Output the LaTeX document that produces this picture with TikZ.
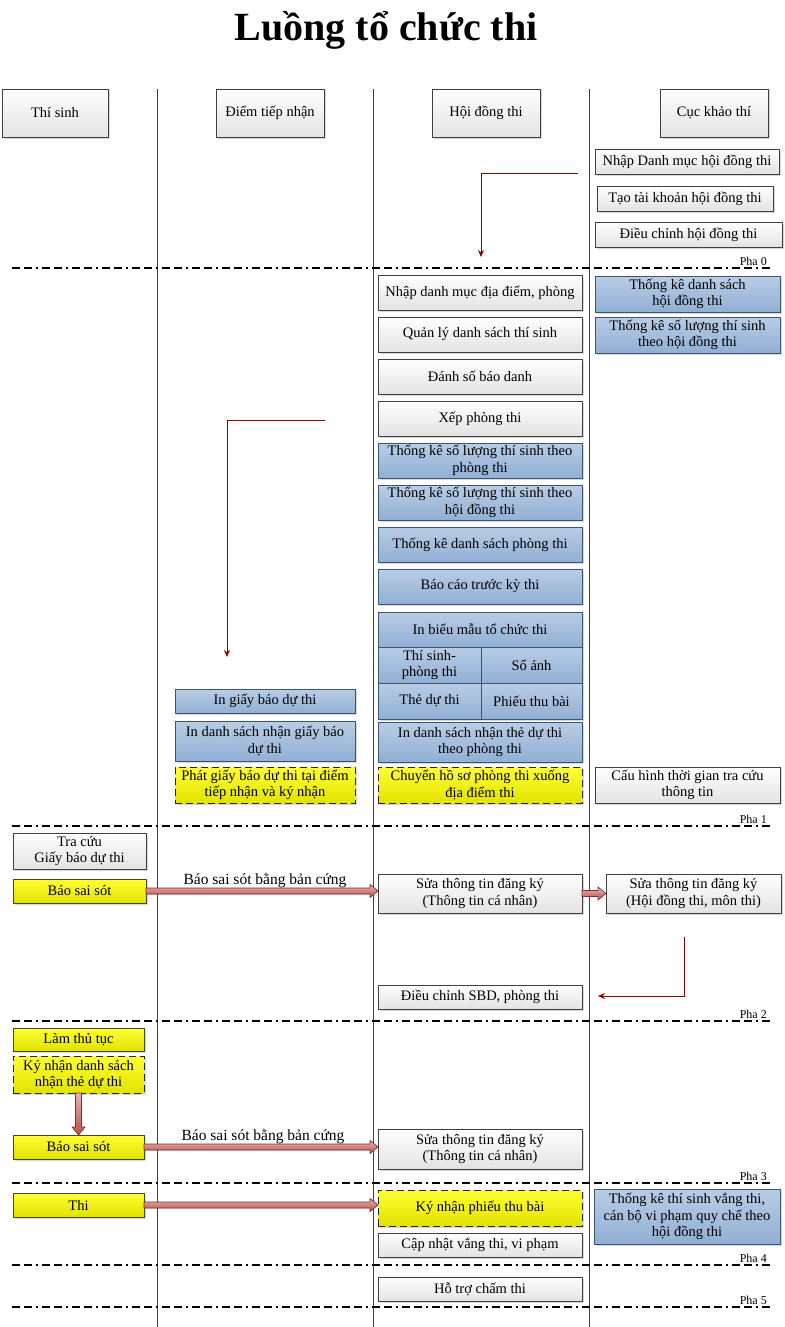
\documentclass[tikz,border=0pt]{standalone}
\usepackage{fontspec}
\setmainfont{Liberation Serif}
\usetikzlibrary{arrows.meta,shadows,calc}
\definecolor{boxline}{HTML}{404040}
\definecolor{blueA}{HTML}{B9CDE5}
\definecolor{blueB}{HTML}{91AFD4}
\definecolor{blueline}{HTML}{3A5674}
\definecolor{yelA}{HTML}{FFFF33}
\definecolor{yelB}{HTML}{E2E200}
\definecolor{yelline}{HTML}{4A4A20}
\definecolor{redcon}{HTML}{8E0000}
\definecolor{fatA}{HTML}{E6B4B2}
\definecolor{fatB}{HTML}{B9504C}
\definecolor{fatline}{HTML}{7F2F2D}
\tikzset{
  txt/.style={font=\fontsize{14.5}{16.5}\selectfont, align=center, inner sep=1pt, outer sep=0pt},
  base/.style={txt, drop shadow={shadow xshift=1.5pt, shadow yshift=-1.5pt, opacity=0.3}},
  wbox/.style={base, draw=boxline, top color=white, bottom color=black!11, line width=0.8pt},
  bbox/.style={base, draw=blueline, top color=blueA, bottom color=blueB, line width=0.8pt},
  ybox/.style={base, draw=yelline, top color=yelA, bottom color=yelB, line width=0.8pt},
  ydbox/.style={ybox, draw=black!85, dash pattern=on 7pt off 4pt},
  lane/.style={draw=boxline, line width=0.8pt},
  phase/.style={draw=black, line width=1.6pt, dash pattern=on 8pt off 4pt on 8pt off 4pt on 2pt off 4pt},
  phlabel/.style={font=\fontsize{12}{13}\selectfont, anchor=south east, inner sep=1pt},
  redarrow/.style={draw=redcon, line width=1pt, -{Stealth[length=7pt,width=6pt]}},
  fat/.style={top color=fatA, bottom color=fatB, draw=fatline, line width=0.6pt},
  lbl/.style={font=\fontsize{15.5}{17}\selectfont, inner sep=0pt}
}
% \Bx{style}{name}{x1}{y1}{x2}{y2}{text}
\newcommand{\Bx}[7]{\node[#1, anchor=north west, minimum width={(#5-#3)*1pt}, minimum height={(#6-#4)*1pt}] (#2) at (#3,#4) {#7};}
% horizontal fat arrow from #1 to #2
\newcommand{\fatH}[2]{%
  \coordinate (#1-#2-tip) at (#2.west |- #1.east);
  \filldraw[fat] ($(#1.east)+(0,-3)$) -- ($(#1-#2-tip)+(-8,-3)$) -- ($(#1-#2-tip)+(-8,-6.5)$) -- (#1-#2-tip) -- ($(#1-#2-tip)+(-8,6.5)$) -- ($(#1-#2-tip)+(-8,3)$) -- ($(#1.east)+(0,3)$) -- cycle;}
\newcommand{\fatV}[2]{%
  \coordinate (#1-#2-tip) at (#1.south |- #2.north);
  \filldraw[fat] ($(#1.south)+(-3,0)$) -- ($(#1-#2-tip)+(-3,-8)$) -- ($(#1-#2-tip)+(-6.5,-8)$) -- (#1-#2-tip) -- ($(#1-#2-tip)+(6.5,-8)$) -- ($(#1-#2-tip)+(3,-8)$) -- ($(#1.south)+(3,0)$) -- cycle;}
\begin{document}
\begin{tikzpicture}[x=1pt,y=-1pt]
\useasboundingbox (0,0) rectangle (784,1327);
\fill[white] (0,0) rectangle (784,1327);
% title
\node[font=\fontsize{40}{44}\selectfont\bfseries, inner sep=0pt] (title) at (386,30) {Luồng tổ chức thi};
% lanes
\coordinate (l1t) at (157,89); \coordinate (l1b) at (157,1327);
\coordinate (l2t) at (373,89); \coordinate (l2b) at (373,1327);
\coordinate (l3t) at (589,89); \coordinate (l3b) at (589,1327);
\draw[lane] (l1t) -- (l1b);
\draw[lane] (l2t) -- (l2b);
\draw[lane] (l3t) -- (l3b);
% headers
\Bx{wbox}{hd1}{2}{89}{108}{137}{Thí sinh}
\Bx{wbox}{hd2}{216}{89}{324}{137}{Điểm tiếp nhận}
\Bx{wbox}{hd3}{432}{89}{540}{137}{Hội đồng thi}
\Bx{wbox}{hd4}{660}{89}{768}{137}{Cục khảo thí}
% phase lines
\foreach \yy/\nm in {268/0,826/1,1021/2,1183/3,1265/4,1307/5}{
  \coordinate (p\nm a) at (12,\yy); \coordinate (p\nm b) at (770,\yy);
  \draw[phase] (p\nm a) -- (p\nm b);
  \node[phlabel] (pl\nm) at (768,\yy-1) {Pha \nm};
}
% Cuc khao thi - phase 0
\Bx{wbox}{c1}{595}{149}{779}{174}{Nhập Danh mục hội đồng thi}
\Bx{wbox}{c2}{597}{186}{773}{211}{Tạo tài khoản hội đồng thi}
\Bx{wbox}{c3}{595}{222}{782}{247}{Điều chỉnh hội đồng thi}
\coordinate (r1s) at (578,173); \coordinate (r1e) at (481,257);
\draw[redarrow] (r1s) -| (r1e);
% Phase 1 - Hoi dong thi
\Bx{wbox}{h1}{378}{275}{582}{310}{Nhập danh mục địa điểm, phòng}
\Bx{wbox}{h2}{378}{317}{582}{352}{Quản lý danh sách thí sinh}
\Bx{wbox}{h3}{378}{359}{582}{394}{Đánh số báo danh}
\Bx{wbox}{h4}{378}{401}{582}{436}{Xếp phòng thi}
\Bx{bbox}{h5}{378}{443}{582}{478}{Thống kê số lượng thí sinh theo\\phòng thi}
\Bx{bbox}{h6}{378}{485}{582}{520}{Thống kê số lượng thí sinh theo\\hội đồng thi}
\Bx{bbox}{h7}{378}{527}{582}{562}{Thống kê danh sách phòng thi}
\Bx{bbox}{h8}{378}{569}{582}{604}{Báo cáo trước kỳ thi}
\Bx{bbox}{h9}{378}{612}{582}{647}{In biểu mẫu tổ chức thi}
\Bx{bbox}{h10a}{378}{647}{481}{683}{Thí sinh-\\phòng thi}
\Bx{bbox}{h10b}{481}{647}{582}{683}{Sổ ảnh}
\Bx{bbox}{h11a}{378}{683}{481}{719}{Thẻ dự thi}
\Bx{bbox}{h11b}{481}{683}{582}{719}{Phiếu thu bài}
\Bx{bbox}{h12}{378}{722}{582}{762}{In danh sách nhận thẻ dự thi\\theo phòng thi}
\Bx{ydbox}{h13}{378}{767}{582}{803}{Chuyển hồ sơ phòng thi xuống\\địa điểm thi}
% Cuc khao thi phase 1
\Bx{bbox}{c4}{595}{276}{780}{312}{Thống kê danh sách\\hội đồng thi}
\Bx{bbox}{c5}{595}{317}{780}{353}{Thống kê số lượng thí sinh\\theo hội đồng thi}
\Bx{wbox}{c6}{595}{767}{780}{803}{Cấu hình thời gian tra cứu\\thông tin}
% Diem tiep nhan
\coordinate (r2s) at (325,420); \coordinate (r2e) at (227,657);
\draw[redarrow] (r2s) -| (r2e);
\Bx{bbox}{d1}{175}{689}{355}{713}{In giấy báo dự thi}
\Bx{bbox}{d2}{175}{721}{355}{761}{In danh sách nhận giấy báo\\dự thi}
\Bx{ydbox}{d3}{175}{767}{355}{803}{Phát giấy báo dự thi tại điểm\\tiếp nhận và ký nhận}
% Phase 2 section
\Bx{wbox}{t1}{13}{833}{146}{869}{Tra cứu\\Giấy báo dự thi}
\Bx{ybox}{t2}{13}{879}{146}{903}{Báo sai sót}
\Bx{wbox}{h14}{378}{874}{582}{913}{Sửa thông tin đăng ký\\(Thông tin cá nhân)}
\Bx{wbox}{c7}{606}{874}{781}{913}{Sửa thông tin đăng ký\\(Hội đồng thi, môn thi)}
\Bx{wbox}{h15}{378}{985}{582}{1009}{Điều chỉnh SBD, phòng thi}
\fatH{t2}{h14}
\fatH{h14}{c7}
\node[lbl] (lb1) at (265,881) {Báo sai sót bằng bản cứng};
\coordinate (r3s) at (684,937); \coordinate (r3e) at (598,996);
\draw[redarrow] (r3s) |- (r3e);
% Phase 3 section
\Bx{ybox}{t3}{13}{1028}{144}{1051}{Làm thủ tục}
\Bx{ydbox}{t4}{13}{1056}{144}{1093}{Ký nhận danh sách\\nhận thẻ dự thi}
\Bx{ybox}{t5}{13}{1135}{144}{1159}{Báo sai sót}
\Bx{wbox}{h16}{378}{1129}{582}{1169}{Sửa thông tin đăng ký\\(Thông tin cá nhân)}
\fatV{t4}{t5}
\fatH{t5}{h16}
\node[lbl] (lb2) at (263,1137) {Báo sai sót bằng bản cứng};
% Phase 4 section
\Bx{ybox}{t6}{13}{1193}{144}{1217}{Thi}
\Bx{ydbox}{h17}{378}{1190}{582}{1226}{Ký nhận phiếu thu bài}
\Bx{wbox}{h18}{378}{1233}{582}{1257}{Cập nhật vắng thi, vi phạm}
\Bx{bbox}{c8}{594}{1189}{780}{1244}{Thống kê thí sinh vắng thi,\\cán bộ vi phạm quy chế theo\\hội đồng thi}
\fatH{t6}{h17}
% Phase 5
\Bx{wbox}{h19}{378}{1277}{582}{1301}{Hỗ trợ chấm thi}
\end{tikzpicture}
\end{document}
